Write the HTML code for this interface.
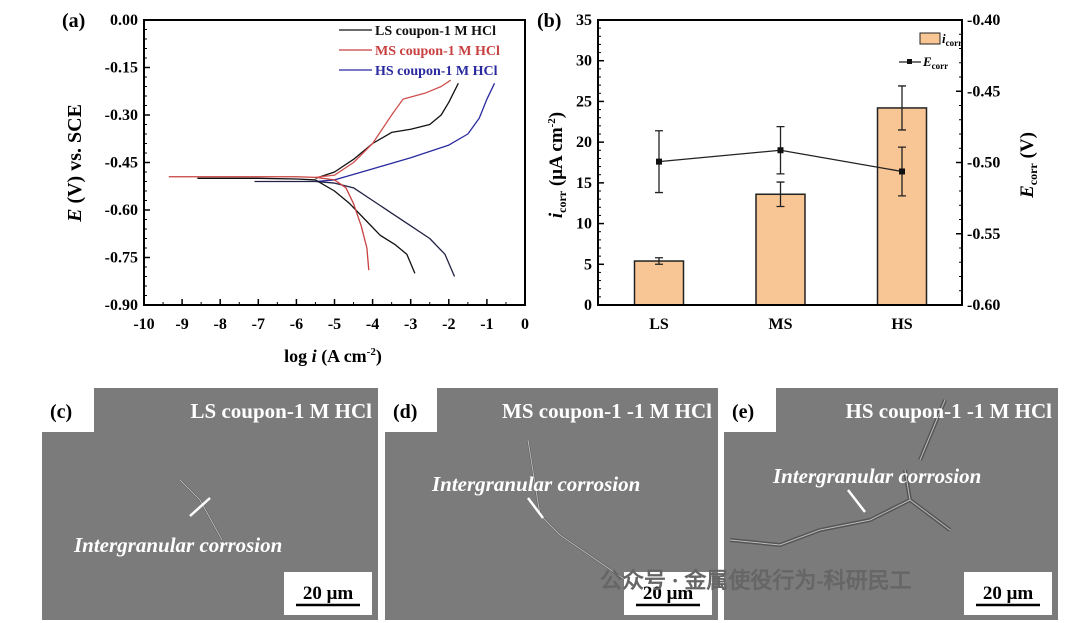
<!DOCTYPE html>
<html><head><meta charset="utf-8"><style>
body{margin:0;background:#fff;width:1080px;height:623px;overflow:hidden;font-family:"Liberation Serif",serif}
svg{position:absolute;left:0;top:0}
text{font-family:"Liberation Serif",serif;font-weight:bold}
</style></head><body>
<svg id="fig" width="1080" height="623">
<g id="pa"></g>
<g id="pb"></g>
<g id="sem"></g>
</svg>
<script>
// ---- panel (a) data ----
const lsX=[-8.6,-7,-6,-5.5,-5,-4.6,-4.2,-3.8,-3.4,-3.1,-2.89];
const lsYc=[-0.5,-0.5,-0.502,-0.505,-0.54,-0.58,-0.63,-0.68,-0.71,-0.74,-0.8];
const lsXa=[-5.5,-5,-4.5,-4,-3.5,-3,-2.5,-2.2,-2,-1.75];
const lsYa=[-0.5,-0.48,-0.44,-0.39,-0.355,-0.345,-0.33,-0.3,-0.26,-0.2];
const msX=[-9.35,-7,-6,-5.5,-5,-4.7,-4.5,-4.3,-4.15,-4.1];
const msYc=[-0.495,-0.495,-0.495,-0.497,-0.505,-0.53,-0.58,-0.65,-0.72,-0.79];
const msXa=[-5.5,-5,-4.5,-4,-3.5,-3.2,-2.6,-2.2,-1.95];
const msYa=[-0.497,-0.49,-0.45,-0.39,-0.3,-0.25,-0.23,-0.21,-0.19];
const hsX=[-7.1,-6,-5.5,-5,-4.5,-4,-3.5,-3,-2.5,-2.1,-1.85];
const hsYc=[-0.51,-0.51,-0.51,-0.515,-0.53,-0.57,-0.61,-0.65,-0.69,-0.74,-0.81];
const hsXa=[-5.5,-5,-4,-3,-2,-1.5,-1.2,-1,-0.8];
const hsYa=[-0.51,-0.505,-0.47,-0.435,-0.395,-0.36,-0.31,-0.25,-0.2];
const aXTicks=[-10,-9,-8,-7,-6,-5,-4,-3,-2,-1,0];
const aYTicks=[0,-0.15,-0.3,-0.45,-0.6,-0.75,-0.9];
// ---- panel (b) data ----
const cats=["LS","MS","HS"];
const icorr=[5.4,13.6,24.2];
const icorrErr=[0.4,1.5,2.7];
const ecorr=[-0.4994,-0.4914,-0.5063];
const ecorrErr=[0.0217,0.0166,0.0171];
const bLTicks=[0,5,10,15,20,25,30,35];
const bRTicks=[-0.6,-0.55,-0.5,-0.45,-0.4];

const NS="http://www.w3.org/2000/svg";
function el(p,t,a,txt){const e=document.createElementNS(NS,t);for(const k in a)e.setAttribute(k,a[k]);if(txt!==undefined)e.textContent=txt;p.appendChild(e);return e;}

// panel a
const pa=document.getElementById('pa');
const ax0=144,ax1=525,ay0=20,ay1=305;
const xa=v=>ax0+(v+10)/10*(ax1-ax0);
const ya=v=>ay0+(-v)/0.9*(ay1-ay0);
let t=el(pa,'text',{x:62,y:27,'font-size':20},'(a)');

aXTicks.forEach(v=>{let l=el(pa,'line',{x1:xa(v),x2:xa(v),y1:ay1,y2:ay1-6,stroke:'#000','stroke-width':1.5});
 
 let tt=el(pa,'text',{x:xa(v),y:ay1+24,'text-anchor':'middle','font-size':16},String(v));
 });
for(let v=-9.5;v<0;v+=1){el(pa,'line',{x1:xa(v),x2:xa(v),y1:ay1,y2:ay1-3,stroke:'#000'});}
aYTicks.forEach(v=>{let l=el(pa,'line',{x1:ax0,x2:ax0+6,y1:ya(v),y2:ya(v),stroke:'#000','stroke-width':1.5});
 
 let tt=el(pa,'text',{x:ax0-6,y:ya(v)+5,'text-anchor':'end','font-size':16},v.toFixed(2));
 });
for(let v=-0.03;v>-0.9;v-=0.03){el(pa,'line',{x1:ax0,x2:ax0+3,y1:ya(v),y2:ya(v),stroke:'#000'});}
let fr=el(pa,'rect',{x:ax0,y:ay0,width:ax1-ax0,height:ay1-ay0,fill:'none',stroke:'#000','stroke-width':2});

function pl(X,Y,c,name){let p=el(pa,'polyline',{points:X.map((x,i)=>xa(x)+','+ya(Y[i])).join(' '),fill:'none',stroke:c,'stroke-width':1.3,'stroke-linejoin':'round'});
 }
pl(hsX,hsYc,'#222244','hs-cathodic-curve');pl(hsXa,hsYa,'#2a2aa0','hs-anodic-curve');
pl(lsX,lsYc,'#111','ls-cathodic-curve');pl(lsXa,lsYa,'#111','ls-anodic-curve');
pl(msX,msYc,'#c84040','ms-cathodic-curve');pl(msXa,msYa,'#d05050','ms-anodic-curve');
[['LS coupon-1 M HCl','#111',35],['MS coupon-1 M HCl','#c84040',55],['HS coupon-1 M HCl','#2a2aa0',75]].forEach(d=>{
 let g=el(pa,'g',{});
 el(g,'line',{x1:339,x2:372,y1:d[2]-5,y2:d[2]-5,stroke:d[1],'stroke-width':1.3});
 el(g,'text',{x:375,y:d[2],'font-size':14,fill:d[1]},d[0]);});
t=el(pa,'text',{x:333,y:362,'text-anchor':'middle','font-size':18});
t.innerHTML='log <tspan font-style="italic">i</tspan> (A cm<tspan dy="-7" font-size="11">-2</tspan><tspan dy="7">)</tspan>';

t=el(pa,'text',{x:0,y:0,'text-anchor':'middle','font-size':20,transform:'translate(81,163) rotate(-90)'});
t.innerHTML='<tspan font-style="italic">E</tspan> (V) vs. SCE';


// panel b
const pb=document.getElementById('pb');
const bx0=598,bx1=962,by0=20,by1=305;
const yl=v=>by1-v/35*(by1-by0);
const yr=v=>by1-(v+0.6)/0.2*(by1-by0);
const xc=i=>659+i*121.5;
t=el(pb,'text',{x:537,y:27,'font-size':20},'(b)');

icorr.forEach((v,i)=>{let r=el(pb,'rect',{x:xc(i)-24.5,y:yl(v),width:49,height:by1-yl(v),fill:'#f8c594',stroke:'#222','stroke-width':1.5});
 
 let e=el(pb,'path',{d:`M${xc(i)},${yl(v-icorrErr[i])}V${yl(v+icorrErr[i])}M${xc(i)-4},${yl(v-icorrErr[i])}h8M${xc(i)-4},${yl(v+icorrErr[i])}h8`,stroke:'#222','stroke-width':1.3});
 
 let tt=el(pb,'text',{x:xc(i),y:by1+24,'text-anchor':'middle','font-size':16},cats[i]);
 });
let ln=el(pb,'polyline',{points:ecorr.map((v,i)=>xc(i)+','+yr(v)).join(' '),fill:'none',stroke:'#222','stroke-width':1.3});

ecorr.forEach((v,i)=>{let e=el(pb,'path',{d:`M${xc(i)},${yr(v-ecorrErr[i])}V${yr(v+ecorrErr[i])}M${xc(i)-4},${yr(v-ecorrErr[i])}h8M${xc(i)-4},${yr(v+ecorrErr[i])}h8`,stroke:'#222','stroke-width':1.3});
 
 let m=el(pb,'rect',{x:xc(i)-3,y:yr(v)-3,width:6,height:6,fill:'#111'});
 });
bLTicks.forEach(v=>{el(pb,'line',{x1:bx0,x2:bx0+6,y1:yl(v),y2:yl(v),stroke:'#000','stroke-width':1.5});
 let tt=el(pb,'text',{x:bx0-6,y:yl(v)+5,'text-anchor':'end','font-size':16},String(v));
 });
for(let v=1;v<35;v++){if(v%5)el(pb,'line',{x1:bx0,x2:bx0+3,y1:yl(v),y2:yl(v),stroke:'#000'});}
bRTicks.forEach(v=>{el(pb,'line',{x1:bx1,x2:bx1-6,y1:yr(v),y2:yr(v),stroke:'#000','stroke-width':1.5});
 let tt=el(pb,'text',{x:bx1+5,y:yr(v)+5,'font-size':16},v.toFixed(2));
 });
for(let v=-0.59;v<-0.4;v+=0.01){el(pb,'line',{x1:bx1,x2:bx1-3,y1:yr(v),y2:yr(v),stroke:'#000'});}
fr=el(pb,'rect',{x:bx0,y:by0,width:bx1-bx0,height:by1-by0,fill:'none',stroke:'#000','stroke-width':2});

let lg=el(pb,'g',{});
el(lg,'rect',{x:920,y:33,width:20,height:11,fill:'#f8c594',stroke:'#222'});
el(lg,'text',{x:942,y:43,'font-size':13,'font-style':'italic'}).innerHTML='i<tspan dy="3" font-size="9" font-style="normal">corr</tspan>';
el(lg,'path',{d:'M899,62h22',stroke:'#222','stroke-width':1.3});
el(lg,'rect',{x:907,y:59,width:5,height:5,fill:'#111'});
el(lg,'text',{x:923,y:66,'font-size':13,'font-style':'italic'}).innerHTML='E<tspan dy="3" font-size="9" font-style="normal">corr</tspan>';
t=el(pb,'text',{x:0,y:0,'text-anchor':'middle','font-size':19,transform:'translate(562,165) rotate(-90)'});
t.innerHTML='<tspan font-style="italic">i</tspan><tspan dy="4" font-size="12">corr</tspan><tspan dy="-4"> (μA cm</tspan><tspan dy="-7" font-size="11">-2</tspan><tspan dy="7">)</tspan>';

t=el(pb,'text',{x:0,y:0,'text-anchor':'middle','font-size':19,transform:'translate(1033,165) rotate(-90)'});
t.innerHTML='<tspan font-style="italic">E</tspan><tspan dy="4" font-size="12">corr</tspan><tspan dy="-4"> (V)</tspan>';


// SEM panels
const sem=document.getElementById('sem');
[[42,378,'(c)','LS coupon-1 M HCl',[74,552],'M210,498 L190,516',"M180,480 L200,500 L222,540"],
 [385,718,'(d)','MS coupon-1 -1 M HCl',[432,491],'M528,498 L543,518',"M528,440 L540,515 L560,535 L640,590"],
 [724,1058,'(e)','HS coupon-1 -1 M HCl',[773,483],'M848,490 L865,512',"M730,540 L780,545 L820,530 L870,520 L910,500 L950,530 M905,470 L910,500 M920,460 L945,400"]].forEach((d,i)=>{
 let g=el(sem,'g',{});
 el(g,'rect',{x:d[0],y:388,width:d[1]-d[0],height:232,fill:'#7b7b7b'});
 el(g,'path',{d:d[6],stroke:'#555',fill:'none','stroke-width':i==2?4:2});
 el(g,'path',{d:d[6],stroke:'#bbb',fill:'none','stroke-width':1});
 el(g,'rect',{x:d[0],y:388,width:52,height:44,fill:'#fff'});
 el(g,'text',{x:d[0]+8,y:418,'font-size':20},d[2]);
 el(g,'text',{x:d[1]-6,y:418,'text-anchor':'end','font-size':21,fill:'#fff'},d[3]);
 el(g,'text',{x:d[4][0],y:d[4][1],'font-size':21,fill:'#fff','font-style':'italic'},'Intergranular corrosion');
 el(g,'path',{d:d[5],stroke:'#fff','stroke-width':2.5});
 el(g,'rect',{x:d[1]-94,y:572,width:88,height:43,fill:'#fff'});
 el(g,'text',{x:d[1]-50,y:599,'text-anchor':'middle','font-size':19},'20 μm');
 el(g,'line',{x1:d[1]-82,x2:d[1]-18,y1:605,y2:605,stroke:'#000','stroke-width':2.5});
});
let wm=el(sem,'text',{x:600,y:588,'font-size':22,fill:'#666','font-weight':'normal','font-family':'"Liberation Sans","Noto Sans CJK SC",sans-serif'},'公众号 · 金属使役行为-科研民工');

</script>
</body></html>
